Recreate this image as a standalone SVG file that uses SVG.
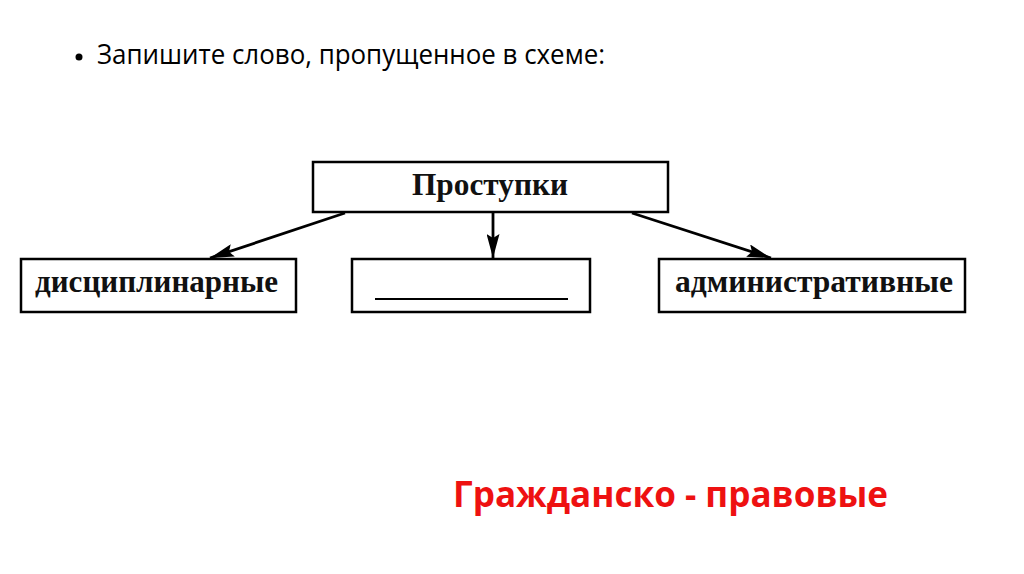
<svg xmlns="http://www.w3.org/2000/svg" width="1024" height="574" viewBox="0 0 1024 574">
<style>
.box{fill:#fff;stroke:#000;stroke-width:2.5}
.lbl{font-family:"Liberation Serif","DejaVu Serif",serif;font-weight:bold;fill:#111}
.conn{stroke:#000;stroke-width:2.8;fill:none}
</style>
<defs>
<marker id="a" viewBox="0 0 24 13" refX="24" refY="6.5" markerWidth="24" markerHeight="13" markerUnits="userSpaceOnUse" orient="auto">
<path d="M0,0 L24,6.5 L0,13 L4,6.5 z" fill="#000"/>
</marker>
</defs>
<rect width="1024" height="574" fill="#fff"/>
<g id="title">
<circle cx="79" cy="57" r="3.5" fill="#000"/>
<text x="97" y="64" font-family="'Open Sans','Noto Sans',sans-serif" font-size="28" fill="#000" textLength="508" lengthAdjust="spacingAndGlyphs">Запишите слово, пропущенное в схеме:</text>
</g>
<g id="connectors">
<line class="conn" x1="345" y1="213" x2="210" y2="258" marker-end="url(#a)"/>
<line class="conn" x1="493" y1="213" x2="493" y2="258" marker-end="url(#a)"/>
<line class="conn" x1="632" y1="213" x2="771" y2="258" marker-end="url(#a)"/>
</g>
<g id="node-prostupki">
<rect class="box" x="313" y="162" width="355" height="50"/>
<text class="lbl" x="490" y="195" font-size="31" text-anchor="middle" textLength="156" lengthAdjust="spacingAndGlyphs">Проступки</text>
</g>
<g id="node-disc">
<rect class="box" x="21" y="259" width="275" height="53"/>
<text class="lbl" x="35" y="292" font-size="32" textLength="243" lengthAdjust="spacingAndGlyphs">дисциплинарные</text>
</g>
<g id="node-blank">
<rect class="box" x="352" y="259" width="238" height="53"/>
<line x1="375" y1="299" x2="568" y2="299" stroke="#000" stroke-width="2"/>
</g>
<g id="node-admin">
<rect class="box" x="659" y="259" width="306" height="53"/>
<text class="lbl" x="675" y="292" font-size="32" textLength="278" lengthAdjust="spacingAndGlyphs">административные</text>
</g>
<g id="answer">
<text x="453" y="507" font-family="'Open Sans','Noto Sans',sans-serif" font-weight="bold" font-size="36" fill="#ee1111" textLength="435" lengthAdjust="spacingAndGlyphs">Гражданско - правовые</text>
</g>
</svg>
